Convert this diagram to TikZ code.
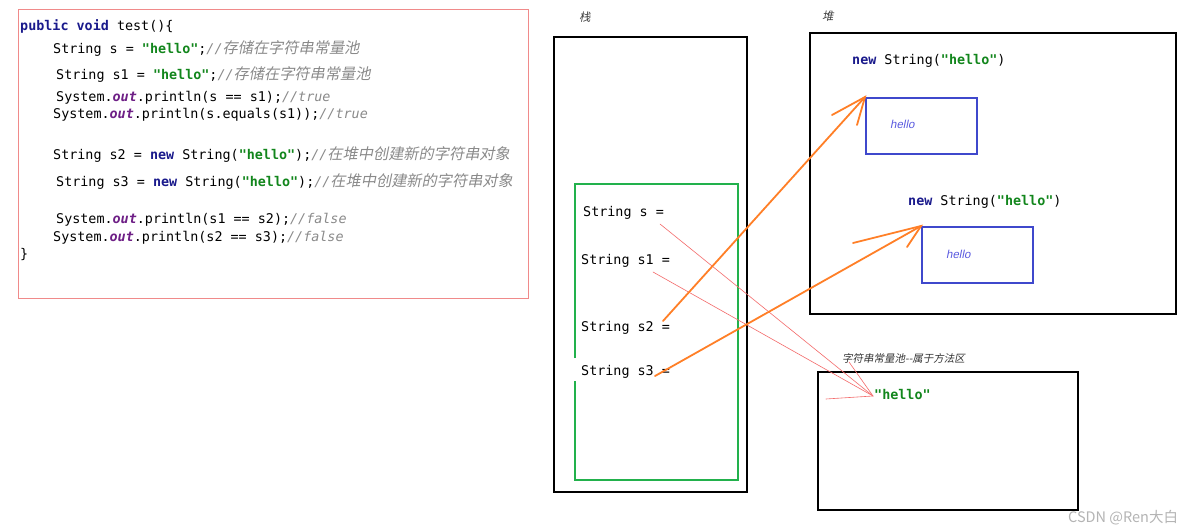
\documentclass[tikz,border=0pt]{standalone}
\usepackage{fontspec}
\setmonofont{DejaVu Sans Mono}[
  ItalicFont={DejaVu Sans Mono Oblique},
  BoldFont={DejaVu Sans Mono Bold},
  BoldItalicFont={DejaVu Sans Mono Bold Oblique}]
\newfontfamily\zhfont{Noto Sans CJK SC}
\newfontfamily\zhslant{Noto Sans CJK SC}[FakeSlant=0.2]
\newfontfamily\uislant{Liberation Sans}[FakeSlant=0.2]

\definecolor{kwblue}{HTML}{1A1A8C}
\definecolor{strgreen}{HTML}{12861C}
\definecolor{fieldpurple}{HTML}{6E1F86}
\definecolor{cmtgray}{HTML}{8A8A8A}
\definecolor{codeframe}{HTML}{F08A8A}
\definecolor{stackgreen}{HTML}{22B14C}
\definecolor{objblue}{HTML}{3F48CC}
\definecolor{objtext}{HTML}{5A5AE0}
\definecolor{refred}{HTML}{F46A6A}
\definecolor{refgold}{HTML}{FF7F27}
\definecolor{markgray}{HTML}{B4B4B4}

% Java syntax colouring
\newcommand\jkw[1]{{\bfseries\color{kwblue}#1}}
\newcommand\jstr[1]{{\bfseries\color{strgreen}#1}}
\newcommand\jfld[1]{{\bfseries\itshape\color{fieldpurple}#1}}
\newcommand\jcmt[1]{{\itshape\color{cmtgray}//#1}}
\newcommand\jzh[1]{{\color{cmtgray}{\itshape//}{\zhslant\fontsize{15.2}{16}\selectfont#1}}}

\begin{document}
\begin{tikzpicture}[x=1pt,y=-1pt,
  code/.style={inner sep=0pt,anchor=base west,
    font=\ttfamily\fontsize{13.4}{16}\selectfont},
  region/.style={draw=black,line width=2pt},
  regionlabel/.style={inner sep=0pt,anchor=base west,text=black!75,
    font=\zhslant\fontsize{11.5}{12}\selectfont},
  heapobj/.style={draw=objblue,line width=1.8pt,anchor=north west,
    minimum width=111pt,minimum height=56pt,inner sep=0pt},
  objval/.style={inner sep=0pt,anchor=base west,text=objtext,
    font=\uislant\fontsize{11.5}{12}\selectfont},
  heapref/.style={draw=refgold,line width=1.8pt,line cap=round},
  poolref/.style={draw=refred,line width=0.6pt,line cap=round}]

\useasboundingbox[fill=white] (0,0) rectangle (1192,532);

% ---- source listing ----
\draw[codeframe,line width=1pt] (18,10) rectangle (528,298);
\node[code] (l1) at (20,31)  {\jkw{public} \jkw{void} test()\{};
\node[code] (l2) at (53,54)  {String s = \jstr{"hello"};\jzh{存储在字符串常量池}};
\node[code] (l3) at (56,80)  {String s1 = \jstr{"hello"};\jzh{存储在字符串常量池}};
\node[code] (l4) at (56,102) {System.\jfld{out}.println(s == s1);\jcmt{true}};
\node[code] (l5) at (53,119) {System.\jfld{out}.println(s.equals(s1));\jcmt{true}};
\node[code] (l6) at (53,160) {String s2 = \jkw{new} String(\jstr{"hello"});\jzh{在堆中创建新的字符串对象}};
\node[code] (l7) at (56,186) {String s3 = \jkw{new} String(\jstr{"hello"});\jzh{在堆中创建新的字符串对象}};
\node[code] (l8) at (56,223) {System.\jfld{out}.println(s1 == s2);\jcmt{false}};
\node[code] (l9) at (53,241) {System.\jfld{out}.println(s2 == s3);\jcmt{false}};
\node[code] (l10) at (20,258) {\}};

% ---- stack ----
\node[regionlabel] (stacklbl) at (579,22) {栈};
\draw[region] (554,37) rectangle (747,492);
\draw[stackgreen,line width=2pt]
  (575,358) -- (575,184) -- (738,184) -- (738,480) -- (575,480) -- (575,381);
\node[code] (vs)  at (583,216) {String s =};
\node[code] (vs1) at (581,264) {String s1 =};
\node[code] (vs2) at (581,331) {String s2 =};
\node[code] (vs3) at (581,375) {String s3 =};

% ---- heap ----
\node[regionlabel] (heaplbl) at (822,21) {堆};
\draw[region] (810,33) rectangle (1176,314);
\node[code] (new1) at (852,65)  {\jkw{new} String(\jstr{"hello"})};
\node[heapobj] (obj1) at (865,97) {};
\node[objval] at (890,129) {hello};
\node[code] (new2) at (908,205) {\jkw{new} String(\jstr{"hello"})};
\node[heapobj] (obj2) at (921,226) {};
\node[objval] at (946,258) {hello};

% ---- string constant pool ----
\node[inner sep=0pt,anchor=base west,text=black!80,
  font=\zhslant\fontsize{10.5}{12}\selectfont] (poollbl) at (842,362) {字符串常量池--属于方法区};
\draw[region] (818,372) rectangle (1078,510);
\node[code] (lit) at (874,399) {\jstr{"hello"}};

% ---- references ----
\coordinate (ps)  at (660,224);
\coordinate (ps1) at (653,272);
\coordinate (ps2) at (663,321);
\coordinate (ps3) at (655,376);
\coordinate (pooltip) at (873,396);
\coordinate (poolbarbA) at (849,362);
\coordinate (poolbarbB) at (826,399);
\coordinate (barb1A) at (832,115);
\coordinate (barb1B) at (857,125);
\coordinate (barb2A) at (853,243);
\coordinate (barb2B) at (907,247);

\draw[poolref] (ps) -- (pooltip);
\draw[poolref] (ps1) -- (pooltip);
\draw[poolref] (poolbarbA) -- (pooltip) -- (poolbarbB);

\draw[heapref] (ps2) -- (obj1.north west);
\draw[heapref] (barb1A) -- (obj1.north west) -- (barb1B);
\draw[heapref] (ps3) -- (obj2.north west);
\draw[heapref] (barb2A) -- (obj2.north west) -- (barb2B);

% ---- watermark ----
\node[inner sep=0pt,anchor=base west,text=markgray,
  font=\zhfont\fontsize{14.5}{16}\selectfont] (mark) at (1068,522) {CSDN @Ren大白};
\end{tikzpicture}
\end{document}
